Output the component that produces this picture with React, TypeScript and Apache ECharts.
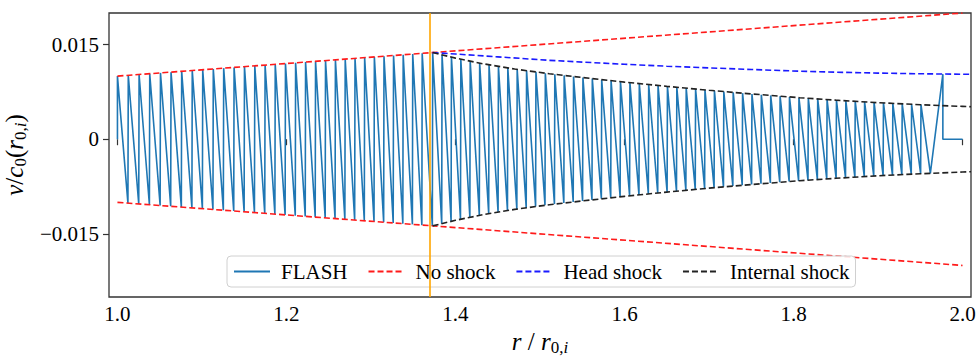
import React, { useEffect, useRef } from "react";
import * as echarts from "echarts";

const xMin = 0.99;
const xMax = 2.01;
const yMin = -0.025;
const yMax = 0.02;
const xTicks = [1.0, 1.2, 1.4, 1.6, 1.8, 2.0];
const yTicks = [-0.015, 0, 0.015];
const shockR = 1.373;

// FLASH sawtooth vertices [r, v]
const flashPoints: [number, number][] = [
  [1.0, 0], [1.0, 0.01],
  [1.0124, -0.01012], [1.0128, 0.01013],
  [1.0252, -0.01025], [1.0256, 0.01026],
  [1.0378, -0.01038], [1.0382, 0.01038],
  [1.0505, -0.01051], [1.0509, 0.01051],
  [1.063, -0.01063], [1.0634, 0.01063],
  [1.0756, -0.01076], [1.076, 0.01076],
  [1.0881, -0.01088], [1.0885, 0.01089],
  [1.1005, -0.01101], [1.1009, 0.01101],
  [1.113, -0.01113], [1.1134, 0.01113],
  [1.1253, -0.01126], [1.1257, 0.01126],
  [1.1376, -0.01138], [1.138, 0.01138],
  [1.1499, -0.0115], [1.1503, 0.0115],
  [1.1621, -0.01162], [1.1625, 0.01163],
  [1.1743, -0.01175], [1.1747, 0.01175],
  [1.1863, -0.01187], [1.1867, 0.01187],
  [1.1984, -0.01199], [1.1988, 0.01199],
  [1.2104, -0.01211], [1.2108, 0.01211],
  [1.2222, -0.01223], [1.2226, 0.01223],
  [1.234, -0.01234], [1.2344, 0.01234],
  [1.2458, -0.01246], [1.2462, 0.01246],
  [1.2575, -0.01258], [1.2579, 0.01258],
  [1.2691, -0.0127], [1.2695, 0.0127],
  [1.2807, -0.01281], [1.2811, 0.01281],
  [1.2921, -0.01293], [1.2925, 0.01293],
  [1.3036, -0.01304], [1.304, 0.01304],
  [1.315, -0.01315], [1.3154, 0.01315],
  [1.3263, -0.01327], [1.3267, 0.01327],
  [1.3377, -0.01338], [1.3381, 0.01338],
  [1.349, -0.01349], [1.3494, 0.01349],
  [1.3602, -0.01361], [1.3606, 0.01361],
  [1.3726, -0.01373], [1.373, 0.01373],
  [1.3837, -0.01337], [1.3841, 0.01337],
  [1.3948, -0.01301], [1.3952, 0.01301],
  [1.4059, -0.01268], [1.4063, 0.01268],
  [1.417, -0.01237], [1.4174, 0.01237],
  [1.4282, -0.01206], [1.4286, 0.01206],
  [1.4393, -0.0118], [1.4397, 0.0118],
  [1.4504, -0.01155], [1.4508, 0.01155],
  [1.4615, -0.0113], [1.4619, 0.0113],
  [1.4726, -0.01107], [1.473, 0.01107],
  [1.4837, -0.01087], [1.4841, 0.01087],
  [1.4948, -0.01067], [1.4952, 0.01067],
  [1.5059, -0.01046], [1.5063, 0.01046],
  [1.5171, -0.01028], [1.5175, 0.01028],
  [1.5282, -0.01011], [1.5286, 0.01011],
  [1.5393, -0.00994], [1.5397, 0.00994],
  [1.5504, -0.00977], [1.5508, 0.00977],
  [1.5615, -0.00961], [1.5619, 0.00961],
  [1.5726, -0.00944], [1.573, 0.00944],
  [1.5837, -0.00928], [1.5841, 0.00928],
  [1.5948, -0.00912], [1.5952, 0.00912],
  [1.606, -0.00896], [1.6064, 0.00896],
  [1.6171, -0.00882], [1.6175, 0.00882],
  [1.6282, -0.00867], [1.6286, 0.00867],
  [1.6393, -0.00852], [1.6397, 0.00852],
  [1.6504, -0.00837], [1.6508, 0.00837],
  [1.6615, -0.00823], [1.6619, 0.00823],
  [1.6726, -0.00809], [1.673, 0.00809],
  [1.6837, -0.00795], [1.6841, 0.00795],
  [1.6948, -0.00781], [1.6952, 0.00781],
  [1.706, -0.00768], [1.7064, 0.00768],
  [1.7171, -0.00755], [1.7175, 0.00755],
  [1.7282, -0.00742], [1.7286, 0.00742],
  [1.7393, -0.0073], [1.7397, 0.0073],
  [1.7504, -0.00717], [1.7508, 0.00717],
  [1.7615, -0.00705], [1.7619, 0.00705],
  [1.7726, -0.00694], [1.773, 0.00694],
  [1.7837, -0.00682], [1.7841, 0.00682],
  [1.7948, -0.0067], [1.7952, 0.0067],
  [1.806, -0.00659], [1.8064, 0.00659],
  [1.8171, -0.00648], [1.8175, 0.00648],
  [1.8282, -0.00638], [1.8286, 0.00638],
  [1.8393, -0.00628], [1.8397, 0.00628],
  [1.8504, -0.00618], [1.8508, 0.00618],
  [1.8615, -0.00609], [1.8619, 0.00609],
  [1.8726, -0.00601], [1.873, 0.00601],
  [1.8837, -0.00592], [1.8841, 0.00592],
  [1.8949, -0.00583], [1.8953, 0.00583],
  [1.906, -0.00575], [1.9064, 0.00575],
  [1.9171, -0.00568], [1.9175, 0.00568],
  [1.9282, -0.00561], [1.9286, 0.00561],
  [1.9393, -0.00554], [1.9397, 0.00554],
  [1.9504, -0.00547], [1.9508, 0.00547],
  [1.9619, -0.00541],
  [1.9767, 0.0103], [1.9767, 0], [2.0, 0],
];

const noShockR = [1.0, 2.0];
const noShockUpper = [0.01, 0.02];
const noShockLower = [-0.01, -0.02];

const headShockR = [1.373, 1.4, 1.45, 1.511, 1.55, 1.6, 1.65, 1.7, 1.75, 1.807, 1.85, 1.9, 1.95, 2.0, 2.01];
const headShockV = [0.01373, 0.0135, 0.01305, 0.0125, 0.01222, 0.01188, 0.01157, 0.0113, 0.01105, 0.01078, 0.01062, 0.01048, 0.01037, 0.0103, 0.01028];

const internalR = [1.373, 1.4, 1.432, 1.47, 1.511, 1.55, 1.6, 1.65, 1.7, 1.75, 1.807, 1.85, 1.9, 1.95, 2.0, 2.01];
const internalUpper = [0.01373, 0.01285, 0.01197, 0.01112, 0.01038, 0.00978, 0.00905, 0.00838, 0.00775, 0.00718, 0.00658, 0.00619, 0.00579, 0.00547, 0.0052, 0.00515];
const internalLower = [-0.01373, -0.01285, -0.01197, -0.01112, -0.01038, -0.00978, -0.00905, -0.00838, -0.00775, -0.00718, -0.00658, -0.00619, -0.00579, -0.00547, -0.0052, -0.00515];

const zip = (xs: number[], ys: number[]) => xs.map((x, i) => [x, ys[i]]);

const FONT = "Liberation Serif";
const DASH = [6, 3];

export default function App() {
  const ref = useRef<HTMLDivElement>(null);
  useEffect(() => {
    document.body.style.margin = "0";
    if (!ref.current) return;
    const chart = echarts.init(ref.current, null, { renderer: "svg" });
    const richBase = {
      i: { fontFamily: FONT, fontStyle: "italic", fontSize: 25, lineHeight: 30, color: "#000" },
      n: { fontFamily: FONT, fontSize: 25, lineHeight: 30, color: "#000" },
      s: { fontFamily: FONT, fontSize: 17, lineHeight: 17, verticalAlign: "bottom", color: "#000" },
      si: { fontFamily: FONT, fontStyle: "italic", fontSize: 17, lineHeight: 17, verticalAlign: "bottom", color: "#000" },
    };
    const dashed = (name: string, data: number[][], color: string) => ({
      name,
      type: "line",
      data,
      symbol: "none",
      showSymbol: false,
      clip: true,
      lineStyle: { color, width: 1.6, type: DASH },
      itemStyle: { color },
      z: 3,
    });
    chart.setOption({
      animation: false,
      backgroundColor: "#fff",
      textStyle: { fontFamily: FONT },
      grid: {
        left: 109,
        right: 5,
        top: 13,
        bottom: 63,
        show: true,
        borderColor: "#333",
        borderWidth: 1.3,
        backgroundColor: "transparent",
        containLabel: false,
        outerBoundsMode: "none",
      },
      legend: {
        data: ["FLASH", "No shock", "Head shock", "Internal shock"],
        left: 227,
        top: 256,
        padding: [5, 6, 5, 6],
        itemWidth: 36,
        itemHeight: 12,
        itemGap: 20,
        backgroundColor: "rgba(255,255,255,0.85)",
        borderColor: "#d0d0d0",
        borderWidth: 1,
        borderRadius: 4,
        itemStyle: { opacity: 0 },
        textStyle: { fontFamily: FONT, fontSize: 21, color: "#000", padding: [0, 0, 0, 6] },
      },
      xAxis: {
        type: "value",
        min: xMin,
        max: xMax,
        name: "{i|r}{n| / }{i|r}{s|0,}{si|i}",
        nameLocation: "middle",
        nameGap: 29,
        nameTextStyle: { fontFamily: FONT, rich: richBase },
        axisLine: { show: false },
        splitLine: { show: false },
        axisTick: { show: true, inside: false, length: 6, lineStyle: { color: "#333", width: 1.2 }, customValues: xTicks },
        axisLabel: {
          customValues: xTicks,
          margin: 6,
          fontFamily: FONT,
          fontSize: 21,
          color: "#000",
          formatter: (v: number) => v.toFixed(1),
        },
      },
      yAxis: {
        type: "value",
        min: yMin,
        max: yMax,
        name: "{i|v}{n|/}{i|c}{s|0}{n|(}{i|r}{s|0,}{si|i}{n|)}",
        nameLocation: "middle",
        nameRotate: 90,
        nameGap: 66,
        nameTextStyle: { fontFamily: FONT, rich: richBase },
        axisLine: { show: false },
        splitLine: { show: false },
        axisTick: { show: true, inside: false, length: 6, lineStyle: { color: "#333", width: 1.2 }, customValues: yTicks },
        axisLabel: {
          customValues: yTicks,
          margin: 10,
          fontFamily: FONT,
          fontSize: 21,
          color: "#000",
          formatter: (v: number) => (v === 0 ? "0" : v < 0 ? "\u2212" + Math.abs(v).toFixed(3) : v.toFixed(3)),
        },
      },
      series: [
        {
          name: "FLASH",
          type: "line",
          data: flashPoints,
          symbol: "none",
          showSymbol: false,
          clip: true,
          lineStyle: { color: "#1f77b4", width: 1.6 },
          itemStyle: { color: "#1f77b4" },
          z: 2,
          markLine: {
            silent: true,
            symbol: ["none", "none"],
            label: { show: false },
            lineStyle: { color: "#ffa500", width: 1.6, type: "solid" },
            data: [{ xAxis: shockR }],
            z: 4,
          },
        },
        dashed("No shock", zip(noShockR, noShockUpper), "#ff1a1a"),
        dashed("No shock", zip(noShockR, noShockLower), "#ff1a1a"),
        dashed("Head shock", zip(headShockR, headShockV), "#1a1aff"),
        dashed("Internal shock", zip(internalR, internalUpper), "#222222"),
        dashed("Internal shock", zip(internalR, internalLower), "#222222"),
      ],
    });
    return () => chart.dispose();
  }, []);
  return <div ref={ref} style={{ position: "absolute", left: 0, top: 0, width: 976, height: 360 }} />;
}
